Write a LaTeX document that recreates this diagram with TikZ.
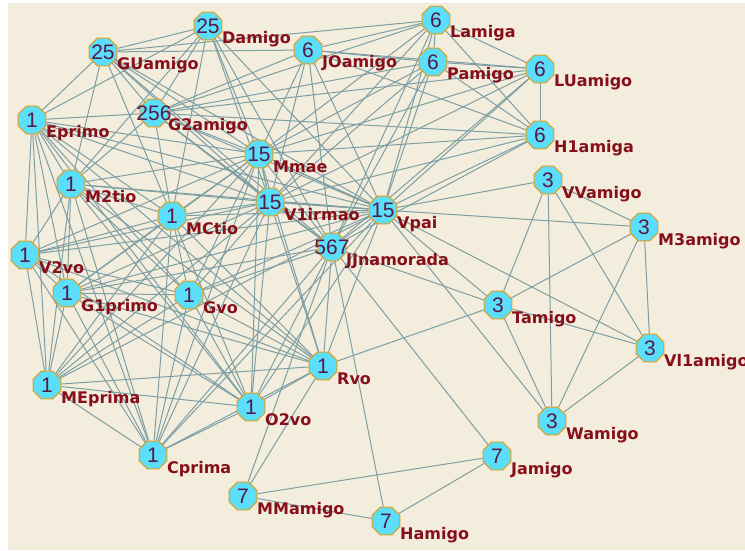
\documentclass[tikz,border=0pt]{standalone}
\usepackage{fontspec}
\setmainfont{Liberation Sans}
\newfontfamily\labfont{DejaVu Sans}
\usetikzlibrary{shapes.geometric}
\pgfdeclarelayer{bg}
\pgfsetlayers{bg,main}
\definecolor{bgc}{RGB}{243,237,222}
\definecolor{edgec}{RGB}{125,158,163}
\definecolor{nodef}{RGB}{90,222,250}
\definecolor{nodeb}{RGB}{225,160,30}
\definecolor{numc}{RGB}{85,25,75}
\definecolor{labc}{RGB}{135,15,25}
\tikzset{
 vx/.style={regular polygon, regular polygon sides=8, minimum size=30pt, inner sep=0pt,
   fill=nodef, draw=nodeb, line width=1.1pt, text=numc, font=\fontsize{21}{21}\selectfont},
 lab/.style={anchor=base west, inner sep=0pt, text=labc, font=\labfont\bfseries\fontsize{16}{16}\selectfont},
 ed/.style={draw=edgec, line width=1pt},
}
\newcommand\mkvtx[5]{\node[vx] (#1) at (#2,#3) {\makebox[0pt]{#4}}; \node[lab] (#1-l) at (#2+14,#3+18) {#5};}
\newcommand\mkclique[1]{\foreach \a [count=\i] in {#1} {\foreach \b [count=\j] in {#1} {\ifnum\j>\i \draw[ed] (\a) -- (\b);\fi}}}
\begin{document}
\begin{tikzpicture}[x=1pt,y=-1pt]
\useasboundingbox (0,0) rectangle (745,551);
\mkvtx{da}{208}{26}{25}{Damigo}
\mkvtx{gu}{103}{52}{25}{GUamigo}
\mkvtx{g2}{154}{113}{256}{G2amigo}
\mkvtx{ep}{32}{120}{1}{Eprimo}
\mkvtx{jo}{308}{50}{6}{JOamigo}
\mkvtx{la}{436}{20}{6}{Lamiga}
\mkvtx{pa}{433}{62}{6}{Pamigo}
\mkvtx{lu}{540}{69}{6}{LUamigo}
\mkvtx{h1}{540}{135}{6}{H1amiga}
\mkvtx{mm}{259}{154}{15}{Mmae}
\mkvtx{m2}{71}{184}{1}{M2tio}
\mkvtx{v1}{270}{202}{15}{V1irmao}
\mkvtx{vp}{383}{210}{15}{Vpai}
\mkvtx{mc}{172}{216}{1}{MCtio}
\mkvtx{jj}{332}{247}{567}{JJnamorada}
\mkvtx{v2}{25}{255}{1}{V2vo}
\mkvtx{g1}{67}{293}{1}{G1primo}
\mkvtx{gv}{189}{295}{1}{Gvo}
\mkvtx{vv}{548}{180}{3}{VVamigo}
\mkvtx{m3}{644}{227}{3}{M3amigo}
\mkvtx{ta}{498}{305}{3}{Tamigo}
\mkvtx{vl}{650}{348}{3}{Vl1amigo}
\mkvtx{wa}{552}{421}{3}{Wamigo}
\mkvtx{rv}{323}{366}{1}{Rvo}
\mkvtx{me}{47}{385}{1}{MEprima}
\mkvtx{o2}{251}{407}{1}{O2vo}
\mkvtx{cp}{153}{455}{1}{Cprima}
\mkvtx{ja}{497}{456}{7}{Jamigo}
\mkvtx{mma}{243}{496}{7}{MMamigo}
\mkvtx{ha}{386}{521}{7}{Hamigo}
\begin{pgfonlayer}{bg}
\fill[white] (0,0) rectangle (745,551);
\fill[bgc] (8,3) rectangle (745,550);
\mkclique{ep,m2,mc,v2,g1,gv,rv,me,o2,cp,mm,v1,vp}
\mkclique{gu,da,g2,mm,v1,vp,jj}
\mkclique{g2,jo,la,pa,lu,h1,jj}
\foreach \a in {jo,la,pa,lu,h1} {\foreach \b in {mm,v1,vp} {\draw[ed] (\a) -- (\b);}}
\mkclique{vv,m3,ta,vl,wa}
\foreach \b in {vv,m3,ta,vl,wa} {\draw[ed] (vp) -- (\b);}
\mkclique{jj,ja,mma,ha}
\foreach \a/\b in {jj/ta,rv/ta,rv/mma,gu/ep,da/ep,g2/ep,gu/m2,da/m2,da/mc,gu/mc,g2/mc,g2/m2,gu/jo,gu/la,jj/rv,jj/o2,jj/cp,jj/gv,jj/g1}
  {\draw[ed] (\a) -- (\b);}
\end{pgfonlayer}
\end{tikzpicture}
\end{document}
